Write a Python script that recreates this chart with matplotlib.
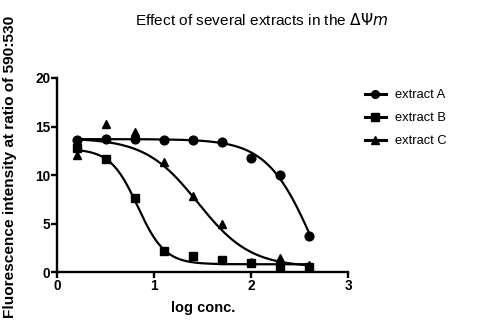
import matplotlib
matplotlib.use("Agg")
import matplotlib.pyplot as plt
import numpy as np

plt.rcParams["font.family"] = ["Liberation Sans", "DejaVu Sans"]

# measured points (log conc. vs fluorescence ratio)
log_conc = [0.2, 0.5, 0.8, 1.1, 1.4, 1.7, 2.0, 2.3, 2.6]
extract_a = [13.6, 13.7, 13.7, 13.6, 13.6, 13.4, 11.8, 10.0, 3.7]
extract_b = [12.8, 11.7, 7.6, 2.2, 1.7, 1.2, 0.9, 0.6, 0.5]
extract_c = [12.1, 15.3, 14.4, 11.3, 7.8, 4.9, 1.0, 1.4, 0.7]

# sigmoidal fit parameters: top, bottom, logIC50, hill
fit_a = (13.7, -8.0, 2.65, 1.8)
fit_b = (12.7, 0.8, 0.83, 3.1)
fit_c = (13.8, 0.5, 1.45, 1.6)

series = [
    ("extract A", extract_a, fit_a, "o"),
    ("extract B", extract_b, fit_b, "s"),
    ("extract C", extract_c, fit_c, "^"),
]


def sigmoid(x, top, bottom, x0, hill):
    return bottom + (top - bottom) / (1 + 10 ** ((x - x0) * hill))


fig = plt.figure(figsize=(4.89, 3.25), dpi=100)
ax = fig.add_axes([0.117, 0.163, 0.595, 0.597])

xs = np.linspace(log_conc[0], log_conc[-1], 300)
for name, ys, fit, mk in series:
    ax.plot(xs, sigmoid(xs, *fit), color="black", lw=1.6, zorder=2)
    ax.plot(log_conc, ys, linestyle="none", marker=mk, color="black",
            markersize=6.3, zorder=3)
    ax.plot([], [], color="black", lw=2.2, marker=mk, markersize=5.5, label=name)

ax.set_xlim(0, 3)
ax.set_ylim(0, 20)
ax.set_xticks([0, 1, 2, 3])
ax.set_yticks([0, 5, 10, 15, 20])
for s in ["top", "right"]:
    ax.spines[s].set_visible(False)
for s in ["left", "bottom"]:
    ax.spines[s].set_linewidth(1.7)
ax.tick_params(width=1.7, length=4, labelsize=9.8, pad=1)
for lbl in ax.get_xticklabels() + ax.get_yticklabels():
    lbl.set_fontweight("bold")

ax.set_xlabel("log conc.", fontsize=10.5, fontweight="bold", labelpad=6)
fig.text(0.02, 0.485, "Fluorescence intensity at ratio of 590:530",
         rotation=90, ha="center", va="center", fontsize=11.1, fontweight="bold")

fig.text(0.534, 0.938, r"Effect of several extracts in the $\Delta\Psi m$",
         ha="center", va="center", fontsize=11.1)

leg = ax.legend(loc="upper left", bbox_to_anchor=(1.04, 0.97), frameon=False,
                fontsize=9.3, handlelength=1.6, handletextpad=0.7,
                labelspacing=0.85, borderaxespad=0)

fig.savefig("out.png", dpi=100)
